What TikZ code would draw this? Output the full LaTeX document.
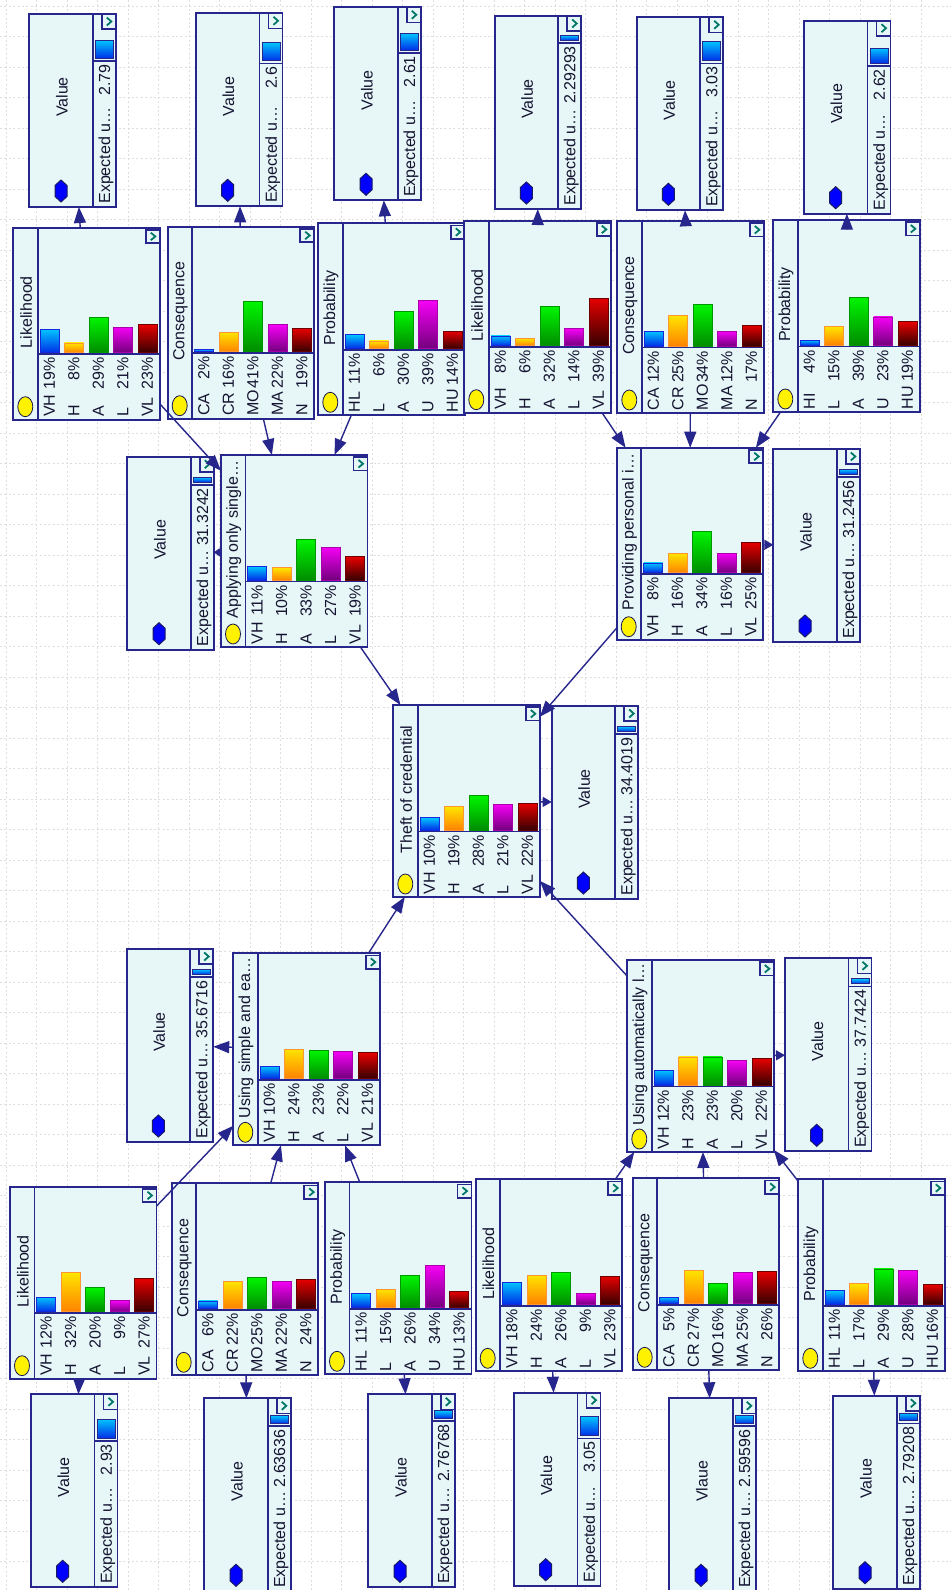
\documentclass[tikz,border=0pt]{standalone}
\usepackage{fontspec}
\setmainfont{Liberation Sans}
\usepackage{xcolor}
\usetikzlibrary{arrows.meta}

\definecolor{gnavy}{RGB}{38,38,140}
\definecolor{gfill}{RGB}{231,246,246}
\definecolor{gtext}{RGB}{20,20,50}
\definecolor{gteal}{RGB}{0,120,105}
\definecolor{ggrid}{RGB}{222,222,222}
\definecolor{bt0}{RGB}{0,195,255}\definecolor{bb0}{RGB}{0,45,230}\definecolor{bo0}{RGB}{20,40,220}
\definecolor{bt1}{RGB}{255,228,0}\definecolor{bb1}{RGB}{255,130,0}\definecolor{bo1}{RGB}{255,150,50}
\definecolor{bt2}{RGB}{0,245,0}\definecolor{bb2}{RGB}{0,140,0}\definecolor{bo2}{RGB}{0,150,0}
\definecolor{bt3}{RGB}{245,0,245}\definecolor{bb3}{RGB}{115,0,125}\definecolor{bo3}{RGB}{170,0,170}
\definecolor{bt4}{RGB}{230,0,0}\definecolor{bb4}{RGB}{55,0,0}\definecolor{bo4}{RGB}{110,0,0}

\tikzset{
  every node/.style={font=\fontsize{8}{9}\selectfont, text=gtext, inner sep=0pt},
  cbox/.style={draw=gnavy, line width=0.9pt, fill=gfill, anchor=north west,
               minimum width=73.25pt, minimum height=96pt, outer sep=0pt},
  vbox/.style={draw=gnavy, line width=0.9pt, fill=gfill, anchor=north west,
               minimum width=43.25pt, minimum height=96.5pt, outer sep=0pt},
  rline/.style={draw=gnavy, line width=0.8pt},
  chev/.style={draw=gteal, line width=0.9pt},
  ball/.style={fill=yellow, draw=gnavy!60!black, line width=0.4pt},
  hexa/.style={fill=blue, draw=gnavy!70!black, line width=0.5pt},
  vbar/.style={draw=gnavy, top color=bt0, bottom color=bb0, line width=0.5pt},
  rtext/.style={rotate=90},
  gline/.style={draw=ggrid, line width=0.4pt, dash pattern=on 1pt off 1.2pt},
  lnk/.style={draw=gnavy, line width=0.7pt, -{Triangle[length=8pt,width=6pt]}},
  lnkshort/.style={lnk, -{Triangle[length=4.5pt,width=5pt]}},
  lnktiny/.style={lnk, -{Triangle[length=3pt,width=4pt]}}
}

% chance node: name, top-left, title, states
\newcommand{\chancenode}[4]{%
  \node[cbox] (#1) at (#2) {};
  \begin{scope}[shift={(#1.north west)}]
    \draw[rline] (24.4,0) -- (24.4,192) (24.4,126.5) -- (146.5,126.5);
    \draw[rline, fill=gfill] (132.5,2) rectangle (146.5,15.5);
    \draw[chev] (137.5,5) -- (142,8.75) -- (137.5,12.5);
    \draw[ball] (12,179) ellipse [x radius=3.75pt, y radius=5pt];
    \node[rtext] at (12.8,84.5) {#3};
    \foreach \s/\p [count=\k from 0] in {#4} {
      \pgfmathsetmacro{\bx}{26.8+24.5*\k}
      \draw[draw=bo\k, top color=bt\k, bottom color=bb\k, line width=0.4pt]
        (\bx,125) rectangle ++(19,-1.22*\p);
      \node[rtext, anchor=mid west] at (\bx+9.5,189.5) {\s};
      \node[rtext, anchor=mid east] at (\bx+9.5,129.5) {\p\%};
    }
  \end{scope}}

% value node: name, top-left, label, number, separator, bar height
\newcommand{\valuenode}[6]{%
  \node[vbox] (#1) at (#2) {};
  \begin{scope}[shift={(#1.north west)}]
    \draw[rline] (63.4,0) -- (63.4,193) (63.4,#5) -- (86.5,#5);
    \draw[rline, fill=gfill] (72.5,0) rectangle (86.5,15);
    \draw[chev] (77.5,3.5) -- (82,7.5) -- (77.5,11.5);
    \draw[vbar] (66,#5-2.5) rectangle (84,#5-2.5-#6);
    \node[rtext] at (32.5,83) {#3};
    \draw[hexa] (31.7,166) -- (37.7,171.5) -- (37.7,182.5) -- (31.7,188)
      -- (25.7,182.5) -- (25.7,171.5) -- cycle;
    \node[rtext, anchor=mid west] at (75.5,190) {Expected u…};
    \node[rtext, anchor=mid east] at (75.5,#5+3) {#4};
  \end{scope}}

\begin{document}
\begin{tikzpicture}[x=0.5pt, y=-0.5pt]
  \useasboundingbox (0,0) rectangle (951,1590);
  \fill[white] (0,0) rectangle (951,1590);
  \clip (0,0) rectangle (951,1590);
  \foreach \gx in {6,36.5,...,951} \draw[gline] (\gx,0) -- (\gx,1590);
  \foreach \gy in {6,36.5,...,1590} \draw[gline] (0,\gy) -- (951,\gy);

  % top row
  \valuenode{tval1}{29.3,14}{Value}{2.79}{47}{18}
  \valuenode{tval2}{196,13.3}{Value}{2.6}{50}{18}
  \valuenode{tval3}{334.3,7.3}{Value}{2.61}{45.4}{16.7}
  \valuenode{tval4}{494.7,16}{Value}{2.29293}{26.7}{4.7}
  \valuenode{tval5}{636.7,17.3}{Value}{3.03}{46}{19.3}
  \valuenode{tval6}{804,20.7}{Value}{2.62}{45}{15}

  \chancenode{tlik1}{13.3,227.7}{Likelihood}{VH/19,H/8,A/29,L/21,VL/23}
  \chancenode{tcon1}{167.7,226.7}{Consequence}{CA/2,CR/16,MO/41,MA/22,N/19}
  \chancenode{tprob1}{318.3,223.3}{Probability}{HL/11,L/6,A/30,U/39,HU/14}
  \chancenode{tlik2}{464.3,220.7}{Likelihood}{VH/8,H/6,A/32,L/14,VL/39}
  \chancenode{tcon2}{617.3,221}{Consequence}{CA/12,CR/25,MO/34,MA/12,N/17}
  \chancenode{tprob2}{773.3,220}{Probability}{HI/4,L/15,A/39,U/23,HU/19}

  % middle
  \valuenode{applyval}{127.3,456.7}{Value}{31.3242}{28}{5}
  \chancenode{apply}{221,455}{Applying only single…}{VH/11,H/10,A/33,L/27,VL/19}
  \chancenode{provide}{616.7,447.7}{Providing personal i…}{VH/8,H/16,A/34,L/16,VL/25}
  \valuenode{provideval}{773.3,449}{Value}{31.2456}{28}{5}

  \chancenode{theft}{393.3,705}{Theft of credential}{VH/10,H/19,A/28,L/21,VL/22}
  \valuenode{theftval}{551.7,706}{Value}{34.4019}{28}{5}

  \valuenode{simpleval}{126.7,949}{Value}{35.6716}{28}{5}
  \chancenode{simple}{233.3,953.3}{Using simple and ea…}{VH/10,H/24,A/23,L/22,VL/21}
  \chancenode{autolog}{627.3,960}{Using automatically l…}{VH/12,H/23,A/23,L/20,VL/22}
  \valuenode{autologval}{785,958.3}{Value}{37.7424}{28}{5}

  % bottom row
  \chancenode{blik1}{10,1186.7}{Likelihood}{VH/12,H/32,A/20,L/9,VL/27}
  \chancenode{bcon1}{171.7,1183.3}{Consequence}{CA/6,CR/22,MO/25,MA/22,N/24}
  \chancenode{bprob1}{325,1182.3}{Probability}{HL/11,L/15,A/26,U/34,HU/13}
  \chancenode{blik2}{475.7,1179.3}{Likelihood}{VH/18,H/24,A/26,L/9,VL/23}
  \chancenode{bcon2}{632.7,1178.3}{Consequence}{CA/5,CR/27,MO/16,MA/25,N/26}
  \chancenode{bprob2}{798.3,1179.3}{Probability}{HL/11,L/17,A/29,U/28,HU/16}

  \valuenode{bval1}{31,1394.3}{Value}{2.93}{46.4}{19}
  \valuenode{bval2}{204.3,1398.3}{Value}{2.63636}{27.7}{7.6}
  \valuenode{bval3}{368.3,1394.3}{Value}{2.76768}{26.4}{7.3}
  \valuenode{bval4}{514,1392.7}{Value}{3.05}{45.6}{19}
  \valuenode{bval5}{669.3,1398.3}{Vlaue}{2.59596}{27.7}{8.3}
  \valuenode{bval6}{833.3,1395.7}{Value}{2.79208}{27.6}{7.7}

  % connectors
  \draw[lnk] (tlik1) -- (tval1);
  \draw[lnk] (tcon1) -- (tval2);
  \draw[lnk] (tprob1) -- (tval3);
  \draw[lnk] (tlik2) -- (tval4);
  \draw[lnk] (tcon2) -- (tval5);
  \draw[lnk] (tprob2) -- (tval6);
  \draw[lnk] (tlik1) -- (apply);
  \draw[lnk] (tcon1) -- (apply);
  \draw[lnk] (tprob1) -- (apply);
  \draw[lnk] (tlik2) -- (provide);
  \draw[lnk] (tcon2) -- (provide);
  \draw[lnk] (tprob2) -- (provide);
  \draw[lnktiny] (apply) -- (applyval);
  \draw[lnkshort] (provide) -- (provideval);
  \draw[lnk] (apply) -- (theft);
  \draw[lnk] (provide) -- (theft);
  \draw[lnkshort] (theft) -- (theftval);
  \draw[lnk] (simple) -- (theft);
  \draw[lnk] (autolog) -- (theft);
  \draw[lnk] (simple) -- (simpleval);
  \draw[lnkshort] (autolog) -- (autologval);
  \draw[lnk] (blik1) -- (simple);
  \draw[lnk] (bcon1) -- (simple);
  \draw[lnk] (bprob1) -- (simple);
  \draw[lnk] (blik2) -- (autolog);
  \draw[lnk] (bcon2) -- (autolog);
  \draw[lnk] (bprob2) -- (autolog);
  \draw[lnk] (blik1) -- (bval1);
  \draw[lnk] (bcon1) -- (bval2);
  \draw[lnk] (bprob1) -- (bval3);
  \draw[lnk] (blik2) -- (bval4);
  \draw[lnk] (bcon2) -- (bval5);
  \draw[lnk] (bprob2) -- (bval6);
\end{tikzpicture}
\end{document}
